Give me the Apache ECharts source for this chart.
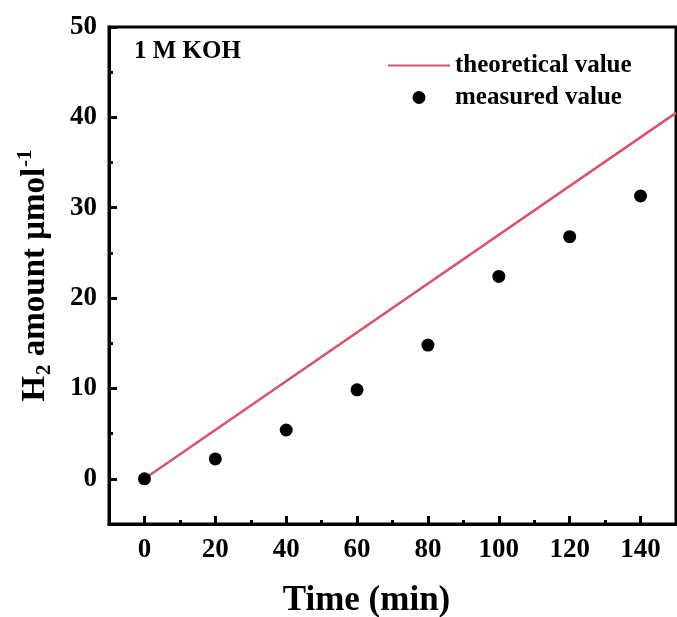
<!DOCTYPE html>
<html><head><meta charset="utf-8">
<script src="https://cdn.jsdelivr.net/npm/echarts@6/dist/echarts.min.js"></script>
<style>html,body{margin:0;padding:0;background:#fff}#c{width:677px;height:617px}</style>
</head><body><div id="c"></div>
<script>
const timeMin = [0, 20, 40, 60, 80, 100, 120, 140];
const measured = [0, 2.2, 5.4, 9.85, 14.8, 22.4, 26.8, 31.3];
const theoX = [0, 150];
const theoY = [0, 40.5];
const xMajor = [0, 20, 40, 60, 80, 100, 120, 140];
const xMinor = [10, 30, 50, 70, 90, 110, 130];
const yMajor = [0, 10, 20, 30, 40, 50];
const yMinor = [5, 15, 25, 35, 45];

const font = 'Liberation Serif';
const chart = echarts.init(document.getElementById('c'));
const lab = {color:'#000', fontFamily:font, fontWeight:'bold', fontSize:27};
chart.setOption({
  animation:false,
  grid:{left:109, right:1, top:27, bottom:93, outerBoundsMode:'none', containLabel:false,
    show:true, borderColor:'#000', borderWidth:3, backgroundColor:'transparent'},
  title:{text:'1 M KOH', left:129, top:34, textStyle:{fontFamily:font, fontWeight:'bold', fontSize:25, color:'#000'}},
  legend:{orient:'vertical', left:382, top:48, itemWidth:62, itemHeight:13, itemGap:7,
    textStyle:{fontFamily:font, fontWeight:'bold', fontSize:25, color:'#000'},
    data:[{name:'theoretical value', itemStyle:{opacity:0}},{name:'measured value', icon:'circle'}]},
  xAxis:[{type:'value', min:-10, max:150, position:'bottom',
    axisLine:{onZero:false, lineStyle:{color:'#000', width:3}},
    axisTick:{inside:true, length:8, lineStyle:{color:'#000', width:3}, customValues:xMajor},
    axisLabel:Object.assign({customValues:xMajor, margin:13}, lab),
    splitLine:{show:false},
    name:'Time (min)', nameLocation:'middle', nameGap:59,
    nameTextStyle:{fontFamily:font, fontWeight:'bold', fontSize:35, color:'#000', padding:[0,52,0,0]}},
   {type:'value', min:-10, max:150, position:'bottom', gridIndex:0,
    axisLine:{show:false, onZero:false},
    axisTick:{inside:true, length:4, lineStyle:{color:'#000', width:3}, customValues:xMinor},
    axisLabel:{show:false}, splitLine:{show:false}}],
  yAxis:[{type:'value', min:-5, max:50, position:'left',
    axisLine:{onZero:false, lineStyle:{color:'#000', width:3}},
    axisTick:{inside:true, length:8, lineStyle:{color:'#000', width:3}, customValues:yMajor},
    axisLabel:Object.assign({customValues:yMajor, margin:12}, lab),
    splitLine:{show:false},
    name:'{m|H}{sub|2}{m| amount μmol}{sup|-1}', nameLocation:'middle', nameGap:54, nameRotate:90,
    nameTextStyle:{rich:{
      m:{fontFamily:font, fontWeight:'bold', fontSize:33, color:'#000', lineHeight:40, verticalAlign:'middle'},
      sub:{fontFamily:font, fontWeight:'bold', fontSize:21, color:'#000', lineHeight:40, verticalAlign:'bottom', padding:[0,0,0,1]},
      sup:{fontFamily:font, fontWeight:'bold', fontSize:21, color:'#000', lineHeight:40, verticalAlign:'top', padding:[0,0,0,1]}
    }}},
   {type:'value', min:-5, max:50, position:'left', gridIndex:0,
    axisLine:{show:false, onZero:false},
    axisTick:{inside:true, length:4, lineStyle:{color:'#000', width:3}, customValues:yMinor},
    axisLabel:{show:false}, splitLine:{show:false}}],
  series:[
    {name:'theoretical value', type:'line', symbol:'none', data:theoX.map((x,i)=>[x,theoY[i]]),
      lineStyle:{color:'#d9546a', width:2.5}, itemStyle:{color:'#d9546a'}, z:2},
    {name:'measured value', type:'scatter', symbol:'circle', symbolSize:13, data:timeMin.map((x,i)=>[x,measured[i]]),
      itemStyle:{color:'#000', opacity:1}, z:3}
  ]
});
</script></body></html>
